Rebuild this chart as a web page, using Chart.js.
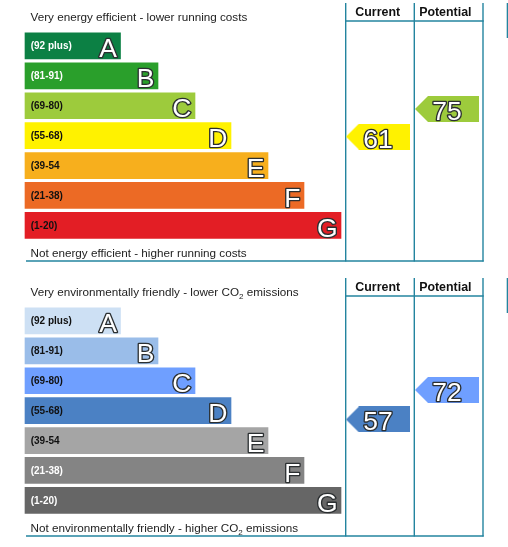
<!DOCTYPE html>
<html>
<head>
<meta charset="utf-8">
<title>EPC ratings</title>
<style>
  html, body { margin: 0; padding: 0; background: #fff; }
  canvas { position: absolute; left: 0; }
  #energy { top: 0; }
  #co2 { top: 275px; }
</style>
</head>
<body>
<canvas id="energy" width="508" height="272"></canvas>
<canvas id="co2" width="508" height="272"></canvas>
<script src="https://cdn.jsdelivr.net/npm/chart.js@4"></script>
<script>
// data
var bandLabels = ['(92 plus)', '(81-91)', '(69-80)', '(55-68)', '(39-54', '(21-38)', '(1-20)'];
var bandLetters = ['A', 'B', 'C', 'D', 'E', 'F', 'G'];
var bandLengths = [95.5, 133, 170, 206, 243, 279, 316];
var columnLabels = ['Current', 'Potential'];
var energyRatings = [61, 75];
var co2Ratings = [57, 72];

var energyColours = ['#0c8044', '#2a9f2b', '#9dcb3c', '#fff200', '#f7af1d', '#ec6a25', '#e31e25'];
var co2Colours = ['#cde0f4', '#9abde9', '#6f9fff', '#4b81c4', '#a5a5a5', '#848484', '#666666'];
var energyLabelColours = ['#fff', '#fff', '#111', '#111', '#111', '#111', '#111'];
var co2LabelColours = ['#111', '#111', '#111', '#111', '#111', '#fff', '#fff'];

var teal = '#23849f';
var font = '"Liberation Sans", Arial, sans-serif';
var columnCentres = [353, 422];  // in x scale units

function makeArrow(colour) {
    var c = document.createElement('canvas');
    c.width = 64;
    c.height = 26;
    var g = c.getContext('2d');
    g.fillStyle = colour;
    g.beginPath();
    g.moveTo(0, 13);
    g.lineTo(13, 0);
    g.lineTo(64, 0);
    g.lineTo(64, 26);
    g.lineTo(13, 26);
    g.closePath();
    g.fill();
    return c;
}

function outlined(ctx, text, x, y, align) {
    ctx.font = '26.5px ' + font;
    ctx.textAlign = align;
    ctx.textBaseline = 'alphabetic';
    ctx.lineJoin = 'round';
    ctx.lineWidth = 2.7;
    ctx.strokeStyle = '#2b2f31';
    ctx.strokeText(text, x, y);
    ctx.fillStyle = '#fff';
    ctx.fillText(text, x, y);
}

// caption with an optional subscript 2, e.g. ['lower CO', '2', ' emissions']
function caption(ctx, parts, x, y) {
    ctx.textAlign = 'left';
    ctx.textBaseline = 'alphabetic';
    ctx.fillStyle = '#222';
    parts.forEach(function (part, i) {
        var sub = i == 1;
        ctx.font = (sub ? '8px ' : '11.7px ') + font;
        ctx.fillText(part, x, sub ? y + 3 : y);
        x += ctx.measureText(part).width;
    });
}

function line(ctx, x1, y1, x2, y2) {
    ctx.beginPath();
    ctx.moveTo(x1, y1);
    ctx.lineTo(x2, y2);
    ctx.stroke();
}

function drawPanel(id, ratings, colours, labelColours, topCaption, bottomCaption) {
    var arrowPoints = [{ x: columnCentres[0], y: ratings[0] }, { x: columnCentres[1], y: ratings[1] }];
    // arrow takes the colour of the band the rating falls in
    var arrows = ratings.map(function (r) {
        return makeArrow(r >= 69 ? colours[2] : colours[3]);
    });

    var panelPlugin = {
        id: 'panel',
        beforeDraw: function (chart) {
            var ctx = chart.ctx;
            ctx.save();
            ctx.strokeStyle = teal;
            ctx.lineWidth = 1.4;
            line(ctx, 345.7, 3, 345.7, 261.6);
            line(ctx, 414.3, 3, 414.3, 261.6);
            line(ctx, 483, 3, 483, 261.6);
            line(ctx, 345, 21, 483.7, 21);
            line(ctx, 26, 261, 483.7, 261);
            line(ctx, 507.4, 3, 507.4, 38);
            ctx.fillStyle = '#111';
            ctx.font = 'bold 12.4px ' + font;
            ctx.textAlign = 'center';
            ctx.textBaseline = 'alphabetic';
            ctx.fillText(columnLabels[0], 377.7, 16);
            ctx.fillText(columnLabels[1], 445.3, 16);
            caption(ctx, topCaption, 30.5, 21);
            caption(ctx, bottomCaption, 30.5, 257);
            ctx.restore();
        },
        afterDatasetsDraw: function (chart) {
            var ctx = chart.ctx;
            ctx.save();
            chart.getDatasetMeta(0).data.forEach(function (bar, i) {
                ctx.font = 'bold 10px ' + font;
                ctx.textAlign = 'left';
                ctx.textBaseline = 'middle';
                ctx.fillStyle = labelColours[i];
                ctx.fillText(bandLabels[i], 30.7, bar.y + 0.5);
                outlined(ctx, bandLetters[i], bar.x - 3.5, bar.y + 11.5, 'right');
            });
            chart.getDatasetMeta(1).data.forEach(function (pt, i) {
                outlined(ctx, String(ratings[i]), pt.x, pt.y + 11, 'center');
            });
            ctx.restore();
        }
    };

    return new Chart(document.getElementById(id).getContext('2d'), {
        type: 'bar',
        plugins: [panelPlugin],
        data: {
            labels: bandLabels,
            datasets: [
                {
                    label: 'Bands',
                    indexAxis: 'y',
                    xAxisID: 'x',
                    yAxisID: 'y',
                    data: bandLengths,
                    backgroundColor: colours,
                    grouped: false,
                    barThickness: 26
                },
                {
                    type: 'scatter',
                    label: 'Ratings',
                    xAxisID: 'x',
                    yAxisID: 'rating',
                    data: arrowPoints,
                    pointStyle: arrows,
                    pointRadius: 6,
                    clip: false
                }
            ]
        },
        options: {
            indexAxis: 'y',
            responsive: false,
            animation: false,
            events: [],
            layout: { autoPadding: false, padding: { top: 31, bottom: 31.7, left: 0, right: 0 } },
            plugins: { legend: { display: false }, tooltip: { enabled: false } },
            scales: {
                x: { type: 'linear', axis: 'x', min: -25, max: 483, display: false },
                y: { type: 'category', axis: 'y', offset: true, display: false },
                rating: { type: 'linear', axis: 'y', min: 13.26, max: 109.7, display: false }
            }
        }
    });
}

var energyChart = drawPanel('energy', energyRatings, energyColours, energyLabelColours,
    ['Very energy efficient - lower running costs'],
    ['Not energy efficient - higher running costs']);

var co2Chart = drawPanel('co2', co2Ratings, co2Colours, co2LabelColours,
    ['Very environmentally friendly - lower CO', '2', ' emissions'],
    ['Not environmentally friendly - higher CO', '2', ' emissions']);
</script>
</body>
</html>
